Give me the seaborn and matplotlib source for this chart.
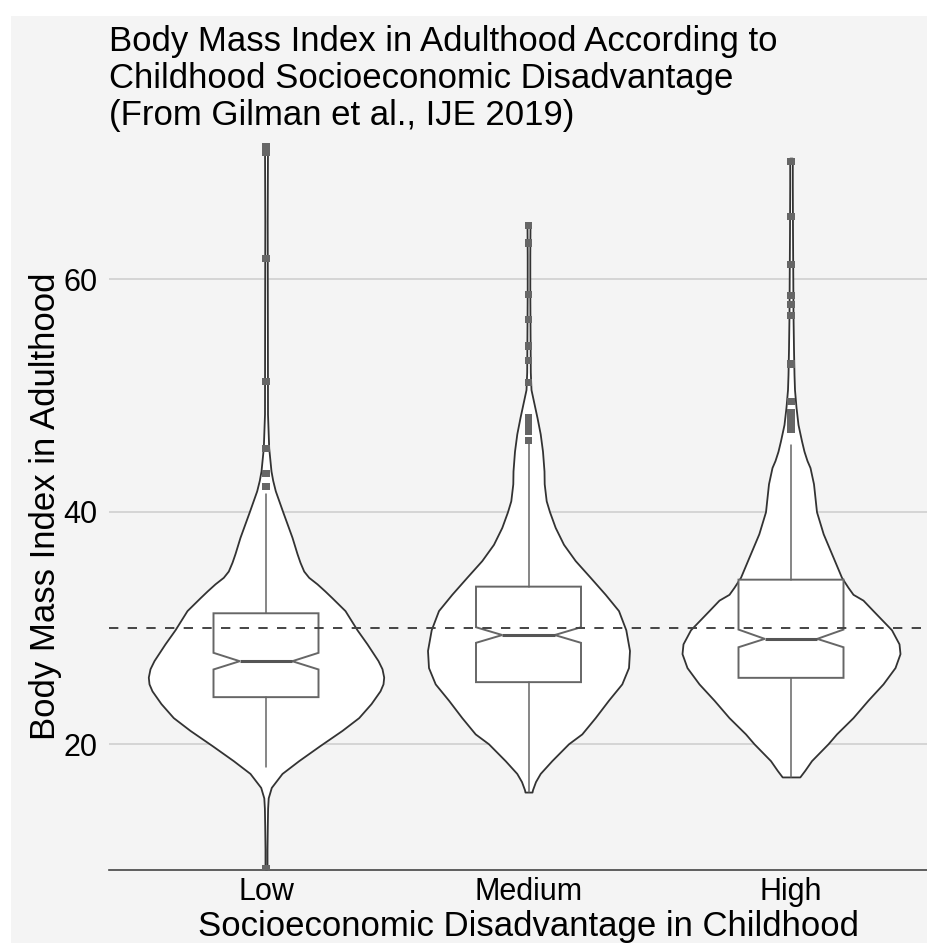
import numpy as np
import pandas as pd
import seaborn as sns
import matplotlib.pyplot as plt
from matplotlib.patches import Rectangle

groups = ["Low", "Medium", "High"]

# violin outlines: BMI level and half width (in px, 262.5 px per category)
low_bmi = [9.3, 11, 13, 14.5, 15.4, 16.3, 17.5, 18.6, 19.9, 21.2, 22.3, 23.5, 24.6, 25.2,
           25.78, 26.5, 27.2, 28.64, 29.85, 31.5, 32.6, 33.2, 33.8, 34.36, 34.9, 35.65,
           36.4, 37.8, 40.0, 41.8, 42.7, 43.5, 45.5, 48.4, 55, 60, 65, 71.6]
low_hw = [1, 1, 1.3, 1.6, 2.2, 5.3, 16, 32.7, 54, 76, 92.7, 105, 114, 117,
          117.7, 116, 112, 101, 91, 79, 66, 58.7, 51, 42.7, 37.7, 34,
          31, 26, 16.7, 9.3, 6.7, 5, 2.7, 1.5, 1.4, 1.3, 1.2, 1.5]

med_bmi = [15.9, 16.1, 16.8, 17.5, 18.6, 20.05, 20.9, 22.3, 23.8, 25.2, 26.6, 28.07,
           29.85, 31.5, 32.9, 34.36, 35.8, 37.2, 38.65, 40, 40.94, 42.4, 43.5, 45.2,
           46.7, 48.1, 49.5, 50.5, 52, 56, 59, 62, 64.7]
med_hw = [3.5, 4, 7, 11.7, 23.3, 40, 53.3, 66.7, 80, 93.3, 100, 101,
          97.3, 90, 76.7, 61.7, 46.7, 35, 26.7, 21, 17.7, 15.7, 15.5, 14,
          11.7, 8.5, 5, 2.5, 1.8, 1.5, 1.3, 1.3, 1.5]

high_bmi = [17.2, 17.77, 18.6, 20.05, 20.9, 22.3, 23.8, 25.2, 26.6, 27.8, 28.64, 29.85,
            31.5, 32.4, 32.9, 33.5, 34.36, 36.1, 38.1, 40, 42.4, 43.8, 44.4, 45.2, 46.1,
            47.5, 49, 50.5, 51.8, 54, 57, 60, 64, 68, 70.4]
high_hw = [8.8, 13.8, 20.5, 37, 45.5, 62, 77, 92, 104, 109, 108, 100.5,
           82, 72, 62, 57, 50.5, 42, 32.2, 25.5, 22.5, 19, 16, 13, 10.5,
           7, 5, 3.5, 3, 2.5, 2, 1.8, 1.5, 1.3, 1.3]

# notched box statistics
q1 = [24.06, 25.35, 25.72]
medians = [27.15, 29.4, 29.07]
q3 = [31.27, 33.56, 34.16]
whisk_lo = [18.05, 15.9, 17.2]
whisk_hi = [41.5, 45.8, 45.7]
notch_lo = [26.44, 28.73, 28.35]
notch_hi = [27.87, 30.07, 29.87]

# outliers
low_out = [71.4, 70.9, 61.75, 51.2, 45.4, 43.3, 42.2, 9.35]
med_out = [64.6, 63.1, 58.7, 56.5, 54.25, 53.0, 51.1, 48.1, 47.7, 47.3, 46.9, 46.1]
high_out = [70.1, 65.4, 61.26, 58.6, 57.8, 56.9, 52.7, 49.5, 48.5, 48.0, 47.5, 47.1]

obesity_line = 30

BG = "#f4f4f4"
PX_PER_CAT = 262.5

sns.set_theme(style="whitegrid")
plt.rcParams['font.family'] = ['Liberation Sans', 'DejaVu Sans']

fig = plt.figure(figsize=(9.27, 9.43), dpi=100)
fig.patch.set_facecolor("white")
fig.add_artist(Rectangle((11 / 927, 0), 1, 1 - 16 / 943, transform=fig.transFigure,
                         facecolor=BG, edgecolor="none", zorder=-10))
ax = fig.add_axes([108.5 / 927, 1 - 870 / 943, 840 / 927, 727 / 943])
ax.set_facecolor(BG)

# violins
for i, (b, hw) in enumerate([(low_bmi, low_hw), (med_bmi, med_hw), (high_bmi, high_hw)]):
    w = np.array(hw) / PX_PER_CAT
    ax.fill_betweenx(b, i - w, i + w, facecolor="white", edgecolor="#333333",
                     linewidth=1.3, zorder=2)

# notched boxes
stats = []
for i in range(3):
    stats.append(dict(med=medians[i], q1=q1[i], q3=q3[i], whislo=whisk_lo[i],
                      whishi=whisk_hi[i], cilo=notch_lo[i], cihi=notch_hi[i], fliers=[]))
ax.bxp(stats, positions=[0, 1, 2], widths=0.4, shownotches=True, showcaps=False,
       showfliers=False, patch_artist=True,
       boxprops=dict(facecolor="white", edgecolor="#666666", linewidth=1.4),
       whiskerprops=dict(color="#666666", linewidth=1.1),
       medianprops=dict(color="#555555", linewidth=2.2), zorder=3)

ax.axhline(obesity_line, color="#444444", linewidth=1.4, linestyle=(0, (4.8, 4.8)), zorder=4)

out_df = pd.DataFrame({
    "group": ["Low"] * len(low_out) + ["Medium"] * len(med_out) + ["High"] * len(high_out),
    "bmi": low_out + med_out + high_out,
})
out_df["pos"] = out_df["group"].map({g: i for i, g in enumerate(groups)})
sns.scatterplot(data=out_df, x="pos", y="bmi", marker="s", s=26, color="#666666",
                edgecolor="none", ax=ax, zorder=5, legend=False)

ax.set_xlim(-0.6, 2.6)
ax.set_ylim(9.2, 71.7)
ax.set_xticks([0, 1, 2], groups)
ax.set_yticks([20, 40, 60])
ax.set_axisbelow(True)
ax.grid(axis="y", color="#cccccc", linewidth=1.1)
ax.grid(axis="x", visible=False)
for s in ["left", "right", "top"]:
    ax.spines[s].set_visible(False)
ax.spines["bottom"].set_color("#444444")
ax.spines["bottom"].set_linewidth(1.2)
ax.tick_params(length=0, labelsize=22, colors="black")
ax.tick_params(axis="x", pad=5)
ax.tick_params(axis="y", pad=8)
ax.set_xlabel("Socioeconomic Disadvantage in Childhood", fontsize=25, color="black", labelpad=2)
ax.set_ylabel("Body Mass Index in Adulthood", fontsize=25, color="black", labelpad=1)

fig.text(109 / 927, 1 - 25 / 943,
         "Body Mass Index in Adulthood According to\nChildhood Socioeconomic Disadvantage\n(From Gilman et al., IJE 2019)",
         fontsize=25, ha="left", va="top", linespacing=1.15, color="black")

fig.savefig("out.png", dpi=100)
